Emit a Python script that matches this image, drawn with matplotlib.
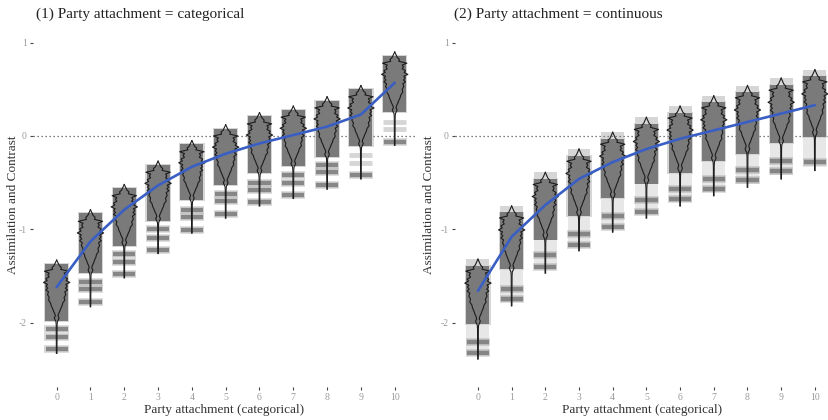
import numpy as np
import matplotlib
matplotlib.use("Agg")
from matplotlib import pyplot as plt

plt.rcParams['font.family'] = ['Liberation Serif', 'DejaVu Serif']

# categories (party attachment 0..10)
cats = list(range(11))
xtick_labels = [str(c) for c in cats]
yticks = [1, 0, -1, -2]

# panel 1: categorical
top_l = [-1.33, -0.79, -0.52, -0.27, -0.05, 0.12, 0.25, 0.32, 0.42, 0.54, 0.90]
bot_l = [-2.33, -1.83, -1.52, -1.26, -1.04, -0.88, -0.75, -0.67, -0.57, -0.46, -0.10]
band_bot_l = [-1.99, -1.48, -1.19, -0.92, -0.70, -0.54, -0.41, -0.33, -0.24, -0.12, 0.25]
dash_l = [[-2.07, -2.15, -2.28], [-1.56, -1.64, -1.78], [-1.26, -1.35, -1.48],
          [-1.00, -1.09, -1.22], [-0.79, -0.87, -1.01], [-0.62, -0.70, -0.84],
          [-0.50, -0.58, -0.71], [-0.42, -0.50, -0.63], [-0.31, -0.39, -0.53],
          [-0.42], [-0.06]]
faint_l = [[], [], [], [], [], [], [], [], [], [-0.20, -0.29], [0.15, 0.08]]
mean_l = [-1.62, -1.13, -0.79, -0.53, -0.33, -0.19, -0.08, 0.01, 0.10, 0.23, 0.57]

# panel 2: continuous
top_r = [-1.32, -0.75, -0.39, -0.14, 0.04, 0.20, 0.32, 0.43, 0.54, 0.62, 0.71]
bot_r = [-2.39, -1.82, -1.47, -1.23, -1.03, -0.88, -0.75, -0.64, -0.55, -0.46, -0.37]
band_bot_r = [-2.03, -1.44, -1.12, -0.87, -0.68, -0.52, -0.41, -0.28, -0.20, -0.09, -0.02]
dash_r = [[-2.21, -2.33], [-1.64, -1.75], [-1.28, -1.40], [-1.05, -1.17],
          [-0.86, -0.98], [-0.69, -0.81], [-0.57, -0.68], [-0.46, -0.57],
          [-0.36, -0.47], [-0.27, -0.38], [-0.28]]
mean_r = [-1.66, -1.08, -0.74, -0.46, -0.28, -0.14, -0.03, 0.06, 0.15, 0.24, 0.33]

# violin outline: relative position from top, half width
vio_t = [0.00, 0.03, 0.06, 0.08, 0.10, 0.12, 0.14, 0.16, 0.18, 0.20, 0.22, 0.24, 0.26,
         0.28, 0.30, 0.32, 0.34, 0.37, 0.40, 0.43, 0.46, 0.49, 0.52, 0.55, 0.58,
         0.60, 0.62, 0.64, 0.66, 0.70, 1.00]
vio_w = [0.00, 0.04, 0.08, 0.14, 0.12, 0.36, 0.22, 0.26, 0.22, 0.32, 0.28, 0.39, 0.27,
         0.31, 0.26, 0.32, 0.24, 0.27, 0.22, 0.24, 0.18, 0.16, 0.12, 0.09, 0.05,
         0.04, 0.07, 0.05, 0.02, 0.012, 0.008]

GRAY = '#7a7a7a'
BLUE = '#3a5fc4'


def draw_panel(ax, top, bot, band_bot, dashes, faint, mean, band_off, fuzzy):
    t = np.array(vio_t)
    w = np.array(vio_w)
    for c in cats:
        btop = top[c] - band_off
        # soft halo + solid band of overlapping points
        ax.bar(c, btop - band_bot[c], bottom=band_bot[c], width=0.75,
               color=GRAY, alpha=0.3, linewidth=0, zorder=1)
        ax.bar(c, btop - band_bot[c] - 0.02, bottom=band_bot[c] + 0.01, width=0.68,
               color=GRAY, linewidth=0, zorder=1)
        if fuzzy:
            ax.bar(c, band_bot[c] - bot[c] - 0.04, bottom=bot[c] + 0.04, width=0.68,
                   color=GRAY, alpha=0.18, linewidth=0, zorder=1)
            ax.bar(c, top[c] - btop, bottom=btop, width=0.68,
                   color=GRAY, alpha=0.3, linewidth=0, zorder=1)
        for d in dashes[c]:
            ax.hlines(d, c - 0.36, c + 0.36, color=GRAY, lw=5.5, alpha=0.3, zorder=2)
            ax.hlines(d, c - 0.33, c + 0.33, color=GRAY, lw=3.2, alpha=0.85, zorder=2)
        for d in faint[c]:
            ax.hlines(d, c - 0.34, c + 0.34, color=GRAY, lw=3.5, alpha=0.3, zorder=2)
        y = top[c] - t * (top[c] - bot[c])
        ax.plot(c - w, y, color='#1c1c1c', lw=0.8, zorder=3)
        ax.plot(c + w, y, color='#1c1c1c', lw=0.8, zorder=3)
    ax.plot(cats, mean, color=BLUE, lw=1.9, zorder=4, solid_capstyle='round')
    ax.axhline(0, color='#555555', lw=0.9, ls=(0, (1, 2.2)), zorder=0)

    ax.set_xticks(cats)
    ax.set_xticklabels(xtick_labels)
    ax.set_yticks(yticks)
    ax.set_yticklabels([str(v) for v in yticks])
    ax.tick_params(axis='both', length=2.5, width=0.8, color='#444444',
                   labelcolor='#9a9a9a', labelsize=7, pad=2)
    for s in ax.spines.values():
        s.set_visible(False)
    ax.set_ylim(-2.69, 1.093)
    ax.set_xlabel('Party attachment (categorical)', fontsize=9.5, color='#333333', labelpad=1)


fig = plt.figure(figsize=(8.29, 4.2), dpi=100)
ax1 = fig.add_axes([0.0398, 0.0786, 0.4608, 0.8405])
ax2 = fig.add_axes([0.5489, 0.0786, 0.4511, 0.8405])

draw_panel(ax1, top_l, bot_l, band_bot_l, dash_l, faint_l, mean_l, 0.03, False)
ax1.set_xlim(-0.70, 10.60)
draw_panel(ax2, top_r, bot_r, band_bot_r, dash_r, [[] for c in cats], mean_r, 0.06, True)
ax2.set_xlim(-0.68, 10.42)

for xp in (13, 429):
    fig.text(xp / 829, 1 - 205 / 420, 'Assimilation and Contrast', fontsize=9.5,
             color='#333333', rotation=90, ha='center', va='center')

fig.text(36 / 829, 1 - 14 / 420, '(1) Party attachment = categorical', fontsize=11,
         color='#222222', va='center', ha='left')
fig.text(454 / 829, 1 - 14 / 420, '(2) Party attachment = continuous', fontsize=11,
         color='#222222', va='center', ha='left')

fig.savefig('out.png', dpi=100)
